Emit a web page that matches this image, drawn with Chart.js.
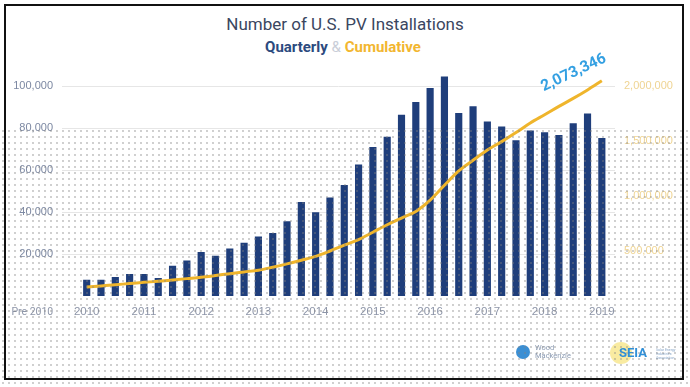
<!DOCTYPE html>
<html>
<head>
<meta charset="utf-8">
<script src="https://cdn.jsdelivr.net/npm/chart.js@4.4.0/dist/chart.umd.min.js"></script>
<style>
  html, body { margin: 0; padding: 0; background: #fff; }
  #wrap { position: relative; width: 690px; height: 387px; overflow: hidden; font-family: Roboto, "Open Sans", sans-serif; }
  #title { position: absolute; top: 14px; left: 0; width: 690px; text-align: center; font-size: 17px; color: #3a4660; }
  #sub { position: absolute; top: 38px; left: 0; width: 686px; text-align: center; font-size: 15px; font-weight: 700; }
  #sub .q { color: #2c4a7e; }
  #sub .a { color: #c9ced8; font-weight: 400; }
  #sub .c { color: #f2b630; }
  canvas { position: absolute; left: 0; top: 0; }
  #dots { position: absolute; left: 0; top: 128px; width: 690px; height: 259px; pointer-events: none;
    background-image: radial-gradient(circle, rgba(130,130,130,0.38) 0.7px, transparent 1.2px);
    background-size: 6px 6px; }
  #frame { position: absolute; left: 4px; top: 4px; width: 676px; height: 372px; border: 2px solid #111; pointer-events: none; }
  .wm { position: absolute; left: 516px; top: 344px; }
  .wm .ic { position: absolute; left: 0; top: 1px; width: 14px; height: 14px; border-radius: 50%; background: #3b8fd4; }
  .wm .tx { position: absolute; left: 19px; top: 0; font-size: 7.5px; line-height: 7.5px; color: #8c9bb2; width: 60px; }
  .seia { position: absolute; left: 608px; top: 340px; }
  .seia .glow { position: absolute; left: 2px; top: 2px; width: 22px; height: 22px; border-radius: 50%; background: #f8e68a; opacity: 0.8; }
  .seia .tx { position: absolute; left: 11px; top: 5px; font-size: 13px; font-weight: 700; color: #2f8fd8; }
  .seia .sm { position: absolute; left: 48px; top: 8px; font-size: 3.5px; line-height: 4px; color: #8aa7c8; width: 20px; }
</style>
</head>
<body>
<div id="wrap">
  <div id="title">Number of U.S. PV Installations</div>
  <div id="sub"><span class="q">Quarterly</span> <span class="a">&amp;</span> <span class="c">Cumulative</span></div>
  <canvas id="chart" width="690" height="387"></canvas>
  <div class="wm"><div class="ic"></div><div class="tx">Wood<br>Mackenzie</div></div>
  <div class="seia"><div class="glow"></div><div class="tx">SEIA</div><div class="sm">Solar Energy Industries Association</div></div>
  <div id="dots"></div>
  <div id="frame"></div>
</div>
<script>
// one bar per quarter, 2010 Q1 .. 2019 Q1
const yearLabels = ["2010", "2011", "2012", "2013", "2014", "2015", "2016", "2017", "2018", "2019"];
const preLabel = "Pre 2010";

const quarterly = [
  7600, 7600, 8900, 10300, 10300, 8400, 14300, 16800,
  20800, 19000, 22500, 25200, 28200, 29800, 35400, 44600,
  39700, 46800, 52700, 62500, 70800, 75700, 86200, 92200,
  98900, 104400, 87000, 90200, 82900, 80600, 74000, 78700,
  77800, 76500, 82100, 86700, 75100
];

const cumulative = [
  169000, 180000, 191000, 201000, 212000, 222000, 234000, 246000,
  258000, 274000, 291000, 307000, 323000, 350000, 380000, 413000,
  448000, 497000, 550000, 600000, 668000, 736000, 797000, 857000,
  960000, 1095000, 1225000, 1322000, 1415000, 1492000, 1574000, 1661000,
  1736000, 1812000, 1885000, 1962000, 2045000
];

const leftTicks = [20000, 40000, 60000, 80000, 100000];
const rightTicks = [500000, 1000000, 1500000, 2000000];
const totalLabel = "2,073,346";

const extras = {
  id: "extras",
  afterDatasetsDraw(chart) {
    const ctx = chart.ctx;
    const x = chart.scales.x;
    // label left of the first year, under the y axis
    ctx.save();
    ctx.font = "10.5px Roboto, sans-serif";
    ctx.fillStyle = "#8d95a8";
    ctx.textAlign = "center";
    ctx.textBaseline = "middle";
    ctx.fillText(preLabel, x.getPixelForValue(-3.8), 312);
    ctx.restore();

    // total callout next to the last cumulative point
    const p = chart.getDatasetMeta(0).data[cumulative.length - 1];
    ctx.save();
    ctx.translate(p.x - 28, p.y - 8);
    ctx.rotate(-0.44);
    ctx.font = "bold 15.5px Roboto, sans-serif";
    ctx.fillStyle = "#34a0e2";
    ctx.textAlign = "center";
    ctx.textBaseline = "middle";
    ctx.fillText(totalLabel, 0, 0);
    ctx.restore();
  }
};

new Chart(document.getElementById("chart").getContext("2d"), {
  data: {
    datasets: [
      {
        type: "line",
        label: "Cumulative",
        data: cumulative.map((v, i) => ({ x: i, y: v })),
        yAxisID: "y1",
        borderColor: "#efb52c",
        borderWidth: 3,
        pointRadius: 0,
        cubicInterpolationMode: "monotone",
        order: 0
      },
      {
        type: "bar",
        label: "Quarterly",
        data: quarterly.map((v, i) => ({ x: i, y: v })),
        yAxisID: "y",
        backgroundColor: "#1f3e7b",
        barThickness: 6.5,
        order: 1
      }
    ]
  },
  options: {
    responsive: false,
    animation: false,
    layout: { padding: { top: 75.5, left: 0, right: 0, bottom: 0 } },
    plugins: { legend: { display: false }, tooltip: { enabled: false } },
    scales: {
      x: {
        type: "linear",
        offset: false,
        min: -1.726,
        max: 36.92,
        grid: { display: false, drawTicks: false },
        border: { display: false },
        afterBuildTicks: (s) => { s.ticks = yearLabels.map((l, k) => ({ value: k * 4 })); },
        ticks: {
          callback: (v) => yearLabels[Math.round(v / 4)],
          color: "#8d95a8",
          font: { size: 11.5 },
          padding: 9,
          maxRotation: 0,
          autoSkip: false
        },
        afterFit: (s) => { s.height = 91; }
      },
      y: {
        position: "left",
        min: 0,
        max: 105000,
        afterBuildTicks: (s) => { s.ticks = leftTicks.map((v) => ({ value: v })); },
        ticks: {
          callback: (v) => v.toLocaleString("en-US"),
          color: "#7c88a2",
          font: { size: 11 },
          padding: 9
        },
        grid: { color: "#e6e6e6", drawTicks: false },
        border: { display: false },
        afterFit: (s) => { s.width = 62; }
      },
      y1: {
        position: "right",
        min: 88000,
        max: 2093000,
        afterBuildTicks: (s) => { s.ticks = rightTicks.map((v) => ({ value: v })); },
        ticks: {
          callback: (v) => v.toLocaleString("en-US"),
          color: "#efd493",
          font: { size: 11 },
          padding: 9
        },
        grid: { display: false, drawTicks: false },
        border: { display: false },
        afterFit: (s) => { s.width = 75; }
      }
    }
  },
  plugins: [extras]
});
</script>
</body>
</html>
